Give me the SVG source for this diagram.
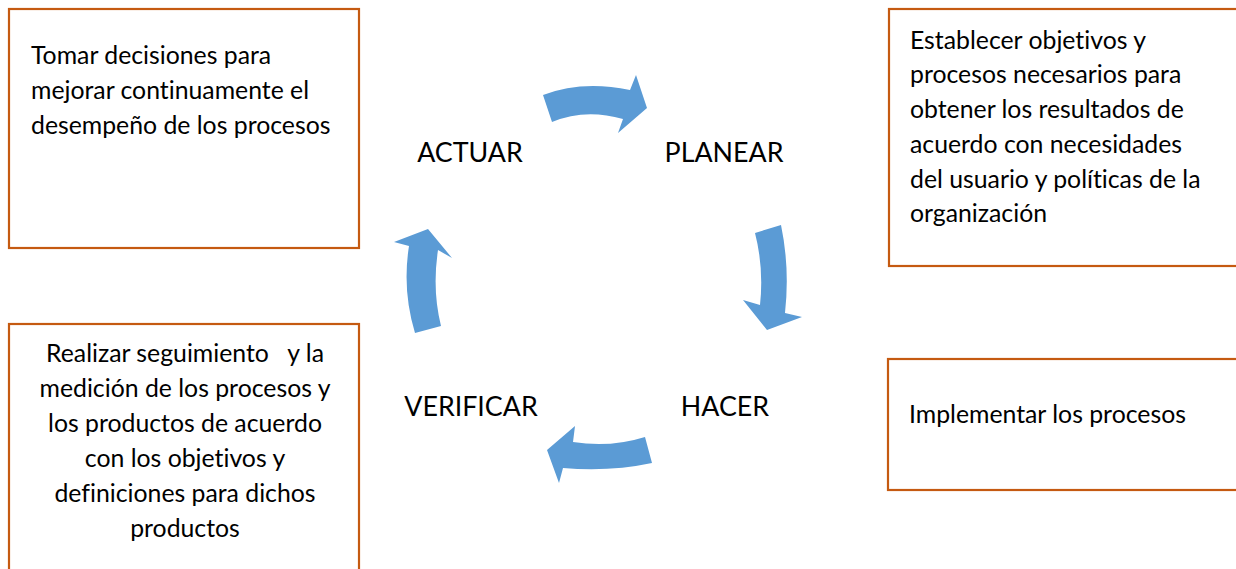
<svg xmlns="http://www.w3.org/2000/svg" width="1236" height="569" viewBox="0 0 1236 569">
<style>
.box{fill:#fff;stroke:#C55A11;stroke-width:2.2}
.t{font-family:Lato,"Liberation Sans",sans-serif;font-size:24.8px;fill:#000;font-variant-ligatures:none}
.lbl{font-family:Lato,"Liberation Sans",sans-serif;font-size:26.8px;fill:#000}
.arr{fill:#5B9BD5}
</style>
<rect width="1236" height="569" fill="#fff"/>
<g id="box-actuar">
<rect class="box" x="9" y="9" width="350" height="239"/>
<text class="t"><tspan x="31" y="64">Tomar decisiones para</tspan><tspan x="31" y="99">mejorar continuamente el</tspan><tspan x="31" y="134">desempeño de los procesos</tspan></text>
</g>
<g id="box-planear">
<rect class="box" x="889" y="9" width="360" height="257"/>
<text class="t"><tspan x="910" y="48.5">Establecer objetivos y</tspan><tspan x="910" y="83">procesos necesarios para</tspan><tspan x="910" y="118">obtener los resultados de</tspan><tspan x="910" y="153">acuerdo con necesidades</tspan><tspan x="910" y="188">del usuario y políticas de la</tspan><tspan x="910" y="222">organización</tspan></text>
</g>
<g id="box-verificar">
<rect class="box" x="9" y="324" width="350" height="260"/>
<text class="t" text-anchor="middle" xml:space="preserve"><tspan x="185" y="362">Realizar seguimiento   y la</tspan><tspan x="185" y="397">medición de los procesos y</tspan><tspan x="185" y="432">los productos de acuerdo</tspan><tspan x="185" y="467">con los objetivos y</tspan><tspan x="185" y="502">definiciones para dichos</tspan><tspan x="185" y="537">productos</tspan></text>
</g>
<g id="box-hacer">
<rect class="box" x="888" y="359" width="360" height="131"/>
<text class="t" x="909" y="423">Implementar los procesos</text>
</g>
<g id="labels">
<text class="lbl" x="470" y="162" text-anchor="middle">ACTUAR</text>
<text class="lbl" x="724" y="162" text-anchor="middle">PLANEAR</text>
<text class="lbl" x="471" y="416" text-anchor="middle">VERIFICAR</text>
<text class="lbl" x="725" y="416" text-anchor="middle">HACER</text>
</g>
<g id="connectors">
<path class="arr" d="M543,95 Q582,80 630,90 L636,75 L647,108 L618,133 L623,119 Q585,108 552,122 Z"/>
<path class="arr" d="M755,233 L781,225 Q790,268 785,313 L802,317 L767,330 L743,300 L760,305 Q764,268 755,233 Z"/>
<path class="arr" d="M645,437 L652,463 Q610,472 563,468 L559,483 L547,450 L575,426 L573,442 Q610,448 645,437 Z"/>
<path class="arr" d="M415,333 L441,326 Q432,290 438,250 L452,258 L428,229 L394,242 L409,246 Q402,290 415,333 Z"/>
</g>
</svg>
